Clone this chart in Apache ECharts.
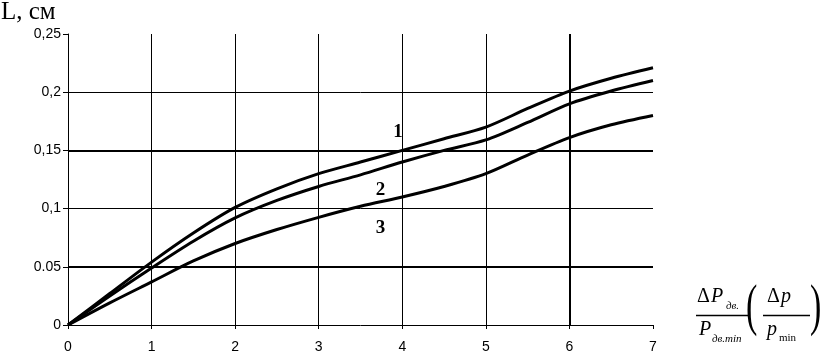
<!DOCTYPE html>
<html><head><meta charset="utf-8">
<script src="https://cdn.jsdelivr.net/npm/echarts@6/dist/echarts.min.js"></script>
<style>html,body{margin:0;padding:0;background:#fff}#c{width:826px;height:357px}</style>
</head><body><div id="c"></div>
<script>
const xValues = [0, 0.5, 1, 1.5, 2, 2.5, 3, 3.5, 4, 4.5, 5, 5.5, 6, 6.5, 7];
const curve1 = [0, 0.027, 0.054, 0.079, 0.101, 0.117, 0.130, 0.140, 0.150, 0.160, 0.170, 0.186, 0.201, 0.212, 0.221];
const curve2 = [0, 0.025, 0.049, 0.072, 0.092, 0.107, 0.119, 0.129, 0.140, 0.150, 0.159, 0.174, 0.190, 0.201, 0.210];
const curve3 = [0, 0.019, 0.037, 0.055, 0.070, 0.082, 0.0925, 0.102, 0.110, 0.119, 0.130, 0.146, 0.161, 0.172, 0.180];
const yTickLabels = {0: '0', 0.05: '0.05', 0.1: '0,1', 0.15: '0,15', 0.2: '0,2', 0.25: '0,25'};
const curveNames = ['1', '2', '3'];
const curveLabelPos = [[3.95, 0.166], [3.74, 0.116], [3.74, 0.083]];
const thickY = [0.05, 0.15];
const thickX = [6];

const chart = echarts.init(document.getElementById('c'), null, {renderer: 'canvas'});
const mk = (arr) => xValues.map((x, i) => [x, arr[i]]);
const lineStyle = {color: '#000', width: 3};
const series = [curve1, curve2, curve3].map((c, i) => ({
  type: 'line', data: mk(c), smooth: 0.3, showSymbol: false, symbol: 'none',
  lineStyle: lineStyle, z: 5, animation: false,
  markPoint: {
    symbol: 'circle', symbolSize: 0, animation: false,
    label: {show: true, formatter: curveNames[i], color: '#000', fontFamily: 'Liberation Serif', fontWeight: 'bold', fontSize: 19, offset: [0, 0]},
    data: [{coord: curveLabelPos[i]}]
  }
}));
series[0].markLine = {
  silent: true, symbol: 'none', animation: false,
  lineStyle: {color: '#000', width: 2, type: 'solid'}, label: {show: false},
  data: thickY.map(v => ({yAxis: v})).concat(thickX.map(v => ({xAxis: v})))
};

chart.setOption({
  animation: false,
  grid: {left: 68, right: 173, top: 34, bottom: 32},
  xAxis: {
    type: 'value', min: 0, max: 7, interval: 1,
    axisLine: {show: true, lineStyle: {color: '#000', width: 1}},
    axisTick: {show: true, length: 4, lineStyle: {color: '#000'}},
    axisLabel: {color: '#000', fontFamily: 'Liberation Sans', fontSize: 14, margin: 15},
    splitLine: {show: true, showMinLine: false, showMaxLine: false, lineStyle: {color: '#000', width: 1}}
  },
  yAxis: {
    type: 'value', min: 0, max: 0.25, interval: 0.05,
    axisLine: {show: true, lineStyle: {color: '#000', width: 1}},
    axisTick: {show: true, length: 5, lineStyle: {color: '#000'}},
    axisLabel: {color: '#000', fontFamily: 'Liberation Sans', fontSize: 14, margin: 7,
      formatter: v => yTickLabels[Math.round(v * 100) / 100] ?? String(v)},
    splitLine: {show: true, showMinLine: false, showMaxLine: false, lineStyle: {color: '#000', width: 1}}
  },
  series: series,
  graphic: [
    {type: 'text', left: 1, top: 0, style: {text: 'L, см', font: '25px "Liberation Serif"', fill: '#000'}},
    // first fraction
    {type: 'text', x: 697, y: 287, style: {text: 'Δ', font: '20px "Liberation Serif"', fill: '#000'}},
    {type: 'text', x: 711, y: 287, style: {text: 'P', font: 'italic 20px "Liberation Serif"', fill: '#000'}},
    {type: 'text', x: 726, y: 301, style: {text: 'дв.', font: 'italic 11px "Liberation Serif"', fill: '#000'}},
    {type: 'line', shape: {x1: 696, y1: 315.5, x2: 750, y2: 315.5}, style: {stroke: '#000', lineWidth: 1.3}},
    {type: 'text', x: 699, y: 320, style: {text: 'P', font: 'italic 20px "Liberation Serif"', fill: '#000'}},
    {type: 'text', x: 712, y: 334, style: {text: 'дв.min', font: 'italic 11px "Liberation Serif"', fill: '#000'}},
    // parentheses
    {type: 'text', x: 746, y: 281, scaleY: 1.65, style: {text: '(', font: '34px "Liberation Serif"', fill: '#000'}},
    {type: 'text', x: 810, y: 281, scaleY: 1.65, style: {text: ')', font: '34px "Liberation Serif"', fill: '#000'}},
    // second fraction
    {type: 'text', x: 767, y: 287, style: {text: 'Δ', font: '20px "Liberation Serif"', fill: '#000'}},
    {type: 'text', x: 781, y: 287, style: {text: 'p', font: 'italic 20px "Liberation Serif"', fill: '#000'}},
    {type: 'line', shape: {x1: 763, y1: 315.5, x2: 810, y2: 315.5}, style: {stroke: '#000', lineWidth: 1.3}},
    {type: 'text', x: 767, y: 320, style: {text: 'p', font: 'italic 20px "Liberation Serif"', fill: '#000'}},
    {type: 'text', x: 779, y: 333, style: {text: 'min', font: '11px "Liberation Serif"', fill: '#000'}}
  ]
});
</script></body></html>
